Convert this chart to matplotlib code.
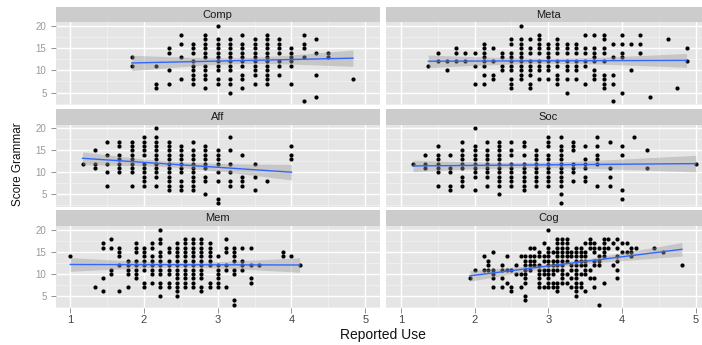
import numpy as np
import matplotlib.pyplot as plt

plt.rcParams['font.family'] = ['Liberation Sans', 'DejaVu Sans']

# each entry: (reported use, [score grammar values in that column])
comp_cols = [
    (11/6, [13, 11]),
    (13/6, [11, 7, 6]),
    (14/6, [15, 14, 10, 7]),
    (15/6, [18, 16, 13, 8]),
    (16/6, [16, 15, 14, 12, 11, 10, 9, 8, 7]),
    (17/6, [18, 17, 16, 15, 14, 13, 11, 10, 9, 8, 6]),
    (18/6, [20, 17, 16, 15, 14, 13, 12, 11, 10, 8, 7]),
    (19/6, [17, 16, 15, 14, 13, 12, 11, 10, 8, 7, 5]),
    (20/6, [18, 16, 15, 14, 13, 12, 11, 9, 8, 6]),
    (21/6, [17, 16, 15, 14, 13, 12, 11, 10, 9, 7]),
    (22/6, [18, 17, 16, 15, 14, 13, 12, 11, 10, 9, 8, 7]),
    (23/6, [17, 16, 15, 14, 12, 11, 9]),
    (24/6, [15, 14, 13, 12, 11, 7]),
    (25/6, [18, 16, 15, 13, 3]),
    (26/6, [17, 14, 9, 4]),
    (27/6, [14, 13]),
    (29/6, [8]),
]

meta_cols = [
    (11/8, [11]),
    (12/8, [14, 12]),
    (13/8, [12, 10]),
    (14/8, [15, 14, 12]),
    (15/8, [14, 12]),
    (16/8, [14, 11, 7]),
    (17/8, [16, 15, 14, 13, 12, 11, 9, 7]),
    (18/8, [15, 12, 9, 8]),
    (19/8, [14, 13, 11, 10]),
    (20/8, [17, 16, 14, 13, 12, 11, 10, 8, 7, 6]),
    (21/8, [20, 17, 16, 15, 14, 13, 12, 11, 10, 9, 8]),
    (22/8, [17, 15, 14, 12, 11, 10, 9, 7, 6]),
    (23/8, [18, 17, 16, 15, 14, 12, 11, 10, 8]),
    (24/8, [16, 15, 14, 13, 12, 11, 10, 8]),
    (25/8, [17, 16, 15, 14, 12, 11, 9, 8, 7]),
    (26/8, [16, 15, 14, 12, 11, 10, 8, 5]),
    (27/8, [16, 15, 14, 12, 11, 10, 8]),
    (28/8, [18, 15, 14, 12, 11, 7]),
    (29/8, [18, 15, 14, 13, 12, 10, 9, 8]),
    (30/8, [18, 17, 15, 14, 12, 9, 8, 7, 6]),
    (31/8, [16, 13, 9, 7, 3]),
    (32/8, [18, 16, 14, 13, 5]),
    (33/8, [16, 10]),
    (34/8, [18, 16, 14]),
    (35/8, [4]),
    (37/8, [17]),
    (38/8, [6]),
    (39/8, [15, 12]),
]

aff_cols = [
    (7/6, [12]),
    (8/6, [15, 12, 11]),
    (9/6, [17, 14, 12, 10, 7]),
    (10/6, [17, 16, 14, 13, 12, 11, 10]),
    (11/6, [17, 16, 15, 14, 13, 12, 11, 10, 7]),
    (12/6, [18, 17, 16, 15, 14, 12, 11, 10, 9, 8, 7]),
    (13/6, [20, 18, 17, 16, 15, 14, 13, 12, 11, 10, 9, 7]),
    (14/6, [17, 16, 15, 14, 13, 12, 11, 10, 9, 8, 7, 6]),
    (15/6, [16, 15, 14, 13, 12, 11, 10, 8, 7, 6]),
    (16/6, [17, 15, 14, 13, 12, 11, 10, 9, 8, 7, 6]),
    (17/6, [16, 15, 14, 13, 12, 11, 9, 8, 5]),
    (18/6, [15, 14, 13, 12, 10, 8, 4, 3]),
    (19/6, [18, 15, 12, 10, 8, 7]),
    (20/6, [14, 9, 8, 7]),
    (21/6, [12, 9, 6]),
    (22/6, [8]),
    (24/6, [16, 14, 13]),
]

soc_cols = [
    (7/6, [12]),
    (8/6, [14, 12, 11]),
    (9/6, [16, 14, 13, 12, 11, 10, 7]),
    (10/6, [14, 11, 10, 7, 6]),
    (11/6, [17, 15, 14, 13, 12, 11, 9, 8, 7]),
    (12/6, [20, 16, 15, 14, 13, 12, 11, 10, 9, 6]),
    (13/6, [17, 15, 14, 13, 12, 11, 10, 9, 7]),
    (14/6, [17, 16, 15, 14, 13, 12, 11, 10, 9, 8, 7, 5]),
    (15/6, [17, 15, 14, 12, 11, 10, 9, 8, 7]),
    (16/6, [17, 16, 14, 12, 11, 10, 9, 8, 7, 6]),
    (17/6, [15, 14, 13, 12, 11, 10, 9, 8, 7]),
    (18/6, [18, 17, 16, 14, 13, 12, 11, 10, 9, 8, 7]),
    (19/6, [18, 16, 15, 14, 13, 12, 11, 10, 9, 8, 7, 5, 3]),
    (20/6, [17, 16, 15, 12, 11, 10, 8]),
    (21/6, [16, 13, 12, 11, 9, 8]),
    (22/6, [18, 16, 14, 13, 12, 7]),
    (23/6, [17, 11, 9, 7]),
    (24/6, [16, 14, 6, 4]),
    (25/6, [18]),
    (26/6, [15, 11]),
    (30/6, [12]),
]

mem_cols = [
    (9/9, [14]),
    (12/9, [7]),
    (13/9, [17, 16, 9, 6]),
    (14/9, [18, 16, 11, 10]),
    (15/9, [16, 15, 14, 12, 6]),
    (16/9, [13, 12, 11, 10, 7]),
    (17/9, [17, 16, 15, 13, 12, 11, 10, 9]),
    (18/9, [16, 15, 14, 13, 12, 11, 8, 7]),
    (19/9, [17, 16, 14, 13, 12, 11, 10, 8]),
    (20/9, [20, 18, 17, 15, 14, 13, 12, 11, 10, 8, 7, 5]),
    (21/9, [16, 15, 13, 12, 11, 10, 8, 7]),
    (22/9, [17, 16, 15, 14, 13, 12, 11, 10, 9, 8, 7, 6, 5]),
    (23/9, [18, 17, 16, 15, 14, 13, 12, 11, 10, 9, 8, 7]),
    (24/9, [18, 17, 16, 15, 14, 13, 12, 11, 10, 9, 8, 7]),
    (25/9, [18, 17, 16, 15, 14, 13, 12, 11, 10, 9, 7, 6]),
    (26/9, [17, 16, 15, 14, 13, 12, 8, 7]),
    (27/9, [14, 12, 11, 10, 9, 8, 7]),
    (28/9, [18, 16, 15, 12, 11, 7]),
    (29/9, [16, 15, 14, 13, 11, 10, 4, 3]),
    (30/9, [16, 13, 12, 11]),
    (31/9, [16, 12, 9, 8]),
    (32/9, [12]),
    (35/9, [15, 14]),
    (36/9, [14]),
    (37/9, [12]),
]

# Cog is read row by row: (score grammar, [reported use in sixteenths])
cog_rows = [
    (20, [48]),
    (18, [50, 51, 52, 57, 60, 61, 63]),
    (17, [47, 50, 51, 52, 56, 57, 58, 60, 62, 64, 65]),
    (16, [44, 45, 48, 50, 51, 52, 54, 55, 57, 58, 59, 60, 61, 63, 66, 67, 71]),
    (15, [36, 46, 48, 49, 50, 51, 52, 53, 54, 55, 56, 58, 60, 64, 65, 66, 73]),
    (14, [34, 39, 42, 43, 44, 45, 46, 47, 48, 50, 51, 52, 53, 54, 55, 56, 59, 60, 63, 66]),
    (13, [35, 43, 44, 45, 47, 48, 49, 50, 51, 52, 54, 55, 56, 58, 59, 63]),
    (12, [35, 38, 41, 43, 44, 45, 46, 48, 49, 50, 51, 53, 54, 55, 56, 58, 59, 62, 77]),
    (11, [32, 34, 35, 36, 38, 39, 40, 43, 44, 46, 47, 48, 49, 50, 51, 53, 54, 56, 57, 63]),
    (10, [36, 41, 42, 43, 46, 47, 48, 49, 51, 52, 54, 55, 56]),
    (9, [31, 36, 38, 43, 46, 48, 51, 53, 54, 57, 58, 63]),
    (8, [39, 43, 46, 48, 49, 50, 51, 52, 54, 55, 60]),
    (7, [36, 38, 40, 42, 46, 47, 48, 49, 50, 53, 54, 55, 58]),
    (6, [40, 50, 54, 56]),
    (5, [43, 54]),
    (4, [43]),
    (3, [59]),
]


def from_cols(cols):
    xs, ys = [], []
    for x, yl in cols:
        xs += [x] * len(yl)
        ys += yl
    return np.array(xs), np.array(ys, dtype=float)


def from_rows(rows, step):
    xs, ys = [], []
    for y, kl in rows:
        xs += [k / step for k in kl]
        ys += [y] * len(kl)
    return np.array(xs), np.array(ys, dtype=float)


panels = [
    ("Comp", from_cols(comp_cols)),
    ("Meta", from_cols(meta_cols)),
    ("Aff", from_cols(aff_cols)),
    ("Soc", from_cols(soc_cols)),
    ("Mem", from_cols(mem_cols)),
    ("Cog", from_rows(cog_rows, 16)),
]

W, H = 702, 345
fig = plt.figure(figsize=(W / 100, H / 100), dpi=100)

# pixel layout (ggplot facet_wrap, 3 rows x 2 cols)
col_left = [55.5, 386]
panel_w = 324.5
row_box = [(7, 22.2, 105.2), (108.5, 124.6, 207), (210, 226.3, 308.4)]

for i, (name, (x, y)) in enumerate(panels):
    r, c = divmod(i, 2)
    st, pt, pb = row_box[r]
    ax = fig.add_axes([col_left[c] / W, 1 - pb / H, panel_w / W, (pb - pt) / H])
    sax = fig.add_axes([col_left[c] / W, 1 - pt / H, panel_w / W, (pt - st) / H])

    ax.set_facecolor('#E5E5E5')
    ax.set_xlim(0.8, 5.2)
    ax.set_ylim(2.15, 20.85)
    ax.set_xticks([1, 2, 3, 4, 5])
    ax.set_yticks([5, 10, 15, 20])
    ax.set_xticks([1.5, 2.5, 3.5, 4.5], minor=True)
    ax.set_yticks([2.5, 7.5, 12.5, 17.5], minor=True)
    ax.grid(which='major', color='white', lw=1.0)
    ax.grid(which='minor', color='#F2F2F2', lw=0.5)
    ax.set_axisbelow(True)
    for s in ax.spines.values():
        s.set_visible(False)
    ax.tick_params(which='minor', length=0)
    ax.tick_params(which='major', length=3.5, width=0.6, color='#7F7F7F')
    if c == 0:
        ax.tick_params(axis='y', labelsize=7, labelcolor='#999999', pad=3)
    else:
        ax.tick_params(axis='y', left=False, labelleft=False)
    if r < 2:
        ax.tick_params(axis='x', bottom=False, labelbottom=False)
    else:
        ax.tick_params(axis='x', labelsize=8, labelcolor='#444444', pad=1.5)

    ax.scatter(x, y, s=9, c='black', lw=0, zorder=2)

    # lm smooth with 95% band
    b, a = np.polyfit(x, y, 1)
    xs = np.linspace(x.min(), x.max(), 80)
    fit = a + b * xs
    n = len(x)
    resid = y - (a + b * x)
    sd = np.sqrt(np.sum(resid ** 2) / (n - 2))
    se = sd * np.sqrt(1 / n + (xs - x.mean()) ** 2 / np.sum((x - x.mean()) ** 2))
    ax.fill_between(xs, fit - 1.97 * se, fit + 1.97 * se, color='#999999',
                    alpha=0.4, lw=0, zorder=3)
    ax.plot(xs, fit, color='#3366FF', lw=1, zorder=4)

    sax.set_facecolor('#CCCCCC')
    sax.set_xticks([])
    sax.set_yticks([])
    for s in sax.spines.values():
        s.set_visible(False)
    sax.text(0.5, 0.5, name, ha='center', va='center', fontsize=8,
             color='#1A1A1A', transform=sax.transAxes)

fig.text(382.5 / W, 1 - 335 / H, 'Reported Use', ha='center', va='center',
         fontsize=10, color='#111111')
fig.text(18 / W, 1 - 164 / H, 'Score Grammar', rotation=90, ha='center',
         va='center', fontsize=8.5, color='#111111')

fig.savefig('out.png', dpi=100)
